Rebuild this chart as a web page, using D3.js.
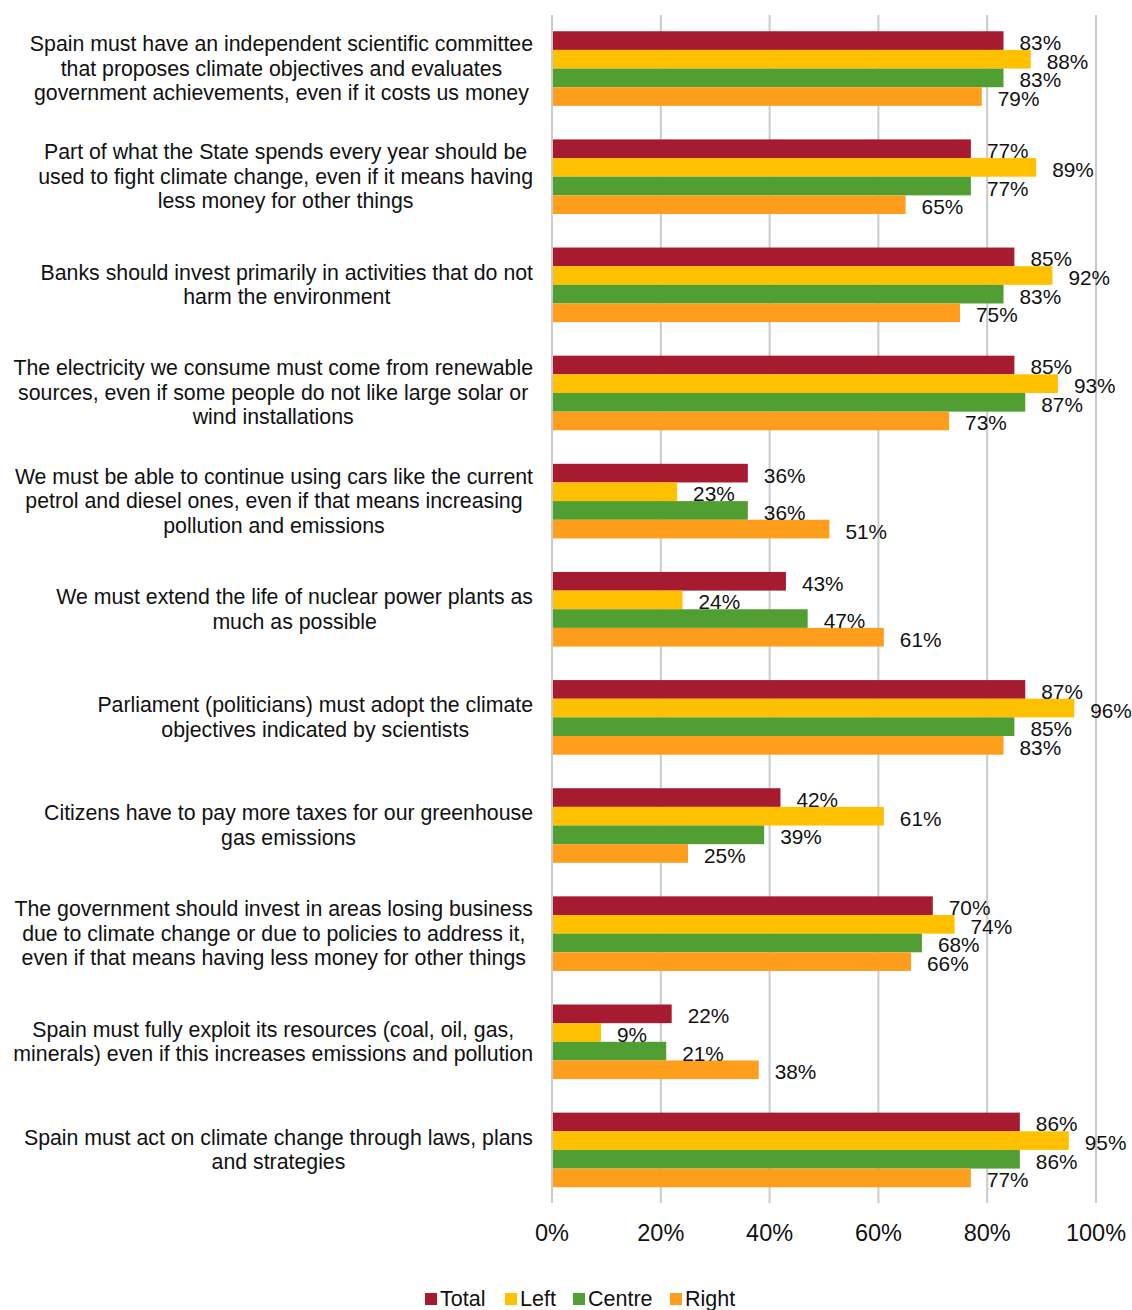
<!DOCTYPE html>
<html>
<head>
<meta charset="utf-8">
<script src="https://cdn.jsdelivr.net/npm/d3@7"></script>
<style>
  html, body { margin: 0; padding: 0; background: #fff; }
  svg { display: block; font-family: "Liberation Sans", Arial, sans-serif; }
</style>
</head>
<body>
<svg id="chart" width="1132" height="1310"></svg>
<script>
const categories = [
  ["Spain must have an independent scientific committee", "that proposes climate objectives and evaluates", "government achievements, even if it costs us money"],
  ["Part of what the State spends every year should be", "used to fight climate change, even if it means having", "less money for other things"],
  ["Banks should invest primarily in activities that do not", "harm the environment"],
  ["The electricity we consume must come from renewable", "sources, even if some people do not like large solar or", "wind installations"],
  ["We must be able to continue using cars like the current", "petrol and diesel ones, even if that means increasing", "pollution and emissions"],
  ["We must extend the life of nuclear power plants as", "much as possible"],
  ["Parliament (politicians) must adopt the climate", "objectives indicated by scientists"],
  ["Citizens have to pay more taxes for our greenhouse", "gas emissions"],
  ["The government should invest in areas losing business", "due to climate change or due to policies to address it,", "even if that means having less money for other things"],
  ["Spain must fully exploit its resources (coal, oil, gas,", "minerals) even if this increases emissions and pollution"],
  ["Spain must act on climate change through laws, plans", "and strategies"]
];
const seriesNames = ["Total", "Left", "Centre", "Right"];
const totalValues  = [83, 77, 85, 85, 36, 43, 87, 42, 70, 22, 86];
const leftValues   = [88, 89, 92, 93, 23, 24, 96, 61, 74, 9, 95];
const centreValues = [83, 77, 83, 87, 36, 47, 85, 39, 68, 21, 86];
const rightValues  = [79, 65, 75, 73, 51, 61, 83, 25, 66, 38, 77];
const tickValues = [0, 20, 40, 60, 80, 100];
const tickLabels = ["0%", "20%", "40%", "60%", "80%", "100%"];

const seriesValues = [totalValues, leftValues, centreValues, rightValues];
const colors = ["#a61b30", "#ffc000", "#519e33", "#ff9e1d"];

const svg = d3.select("#chart");
const plotLeft = 552, plotRight = 1096, plotTop = 14.5, plotBottom = 1204;

const x = d3.scaleLinear().domain([0, 100]).range([plotLeft, plotRight]);
const catIdx = categories.map((d, i) => i);
const y0 = d3.scaleBand().domain(catIdx).range([plotTop, plotBottom])
  .paddingInner(0.31).paddingOuter(0.155);
const y1 = d3.scaleBand().domain(seriesNames).range([0, y0.bandwidth()]);

// gridlines
svg.append("g").selectAll("line").data(tickValues).join("line")
  .attr("x1", d => x(d)).attr("x2", d => x(d))
  .attr("y1", 15).attr("y2", 1203)
  .attr("stroke", "#c8cbce").attr("stroke-width", 2);

// tick labels
svg.append("g").selectAll("text").data(tickValues).join("text")
  .attr("x", d => x(d)).attr("y", 1233)
  .attr("text-anchor", "middle").attr("dominant-baseline", "central")
  .attr("font-size", 23.5).attr("fill", "#111")
  .text((d, i) => tickLabels[i]);

// bars
const groups = svg.append("g").selectAll("g").data(catIdx).join("g")
  .attr("transform", i => `translate(0,${y0(i)})`);

seriesNames.forEach((s, si) => {
  groups.append("rect")
    .attr("x", x(0) + 1)
    .attr("y", i => y1(s))
    .attr("width", i => x(seriesValues[si][i]) - x(0) - 1)
    .attr("height", y1.bandwidth())
    .attr("fill", colors[si]);
});
seriesNames.forEach((s, si) => {
  groups.append("text")
    .attr("x", i => x(seriesValues[si][i]) + 16)
    .attr("y", i => y1(s) + y1.bandwidth() / 2 + 2)
    .attr("dominant-baseline", "central")
    .attr("font-size", 20.8).attr("fill", "#111")
    .text(i => seriesValues[si][i] + "%");
});

// category labels: block right-aligned, lines centered within block
const lineH = 24.5;
catIdx.forEach(i => {
  const lines = categories[i];
  const cy = y0(i) + y0.bandwidth() / 2;
  const g = svg.append("g");
  const texts = lines.map((t, li) => g.append("text")
    .attr("y", cy + (li - (lines.length - 1) / 2) * lineH)
    .attr("dominant-baseline", "central")
    .attr("text-anchor", "middle")
    .attr("font-size", 21.3).attr("fill", "#111")
    .text(t));
  const maxW = d3.max(texts, t => t.node().getComputedTextLength());
  texts.forEach(t => t.attr("x", 533 - maxW / 2));
});

// legend
const legendX = [425, 505, 573, 670];
const lg = svg.append("g");
seriesNames.forEach((s, si) => {
  lg.append("rect").attr("x", legendX[si]).attr("y", 1293).attr("width", 12).attr("height", 12)
    .attr("fill", colors[si]);
  lg.append("text").attr("x", legendX[si] + 15).attr("y", 1298.5)
    .attr("dominant-baseline", "central").attr("font-size", 21.5).attr("fill", "#111")
    .text(s);
});
</script>
</body>
</html>
